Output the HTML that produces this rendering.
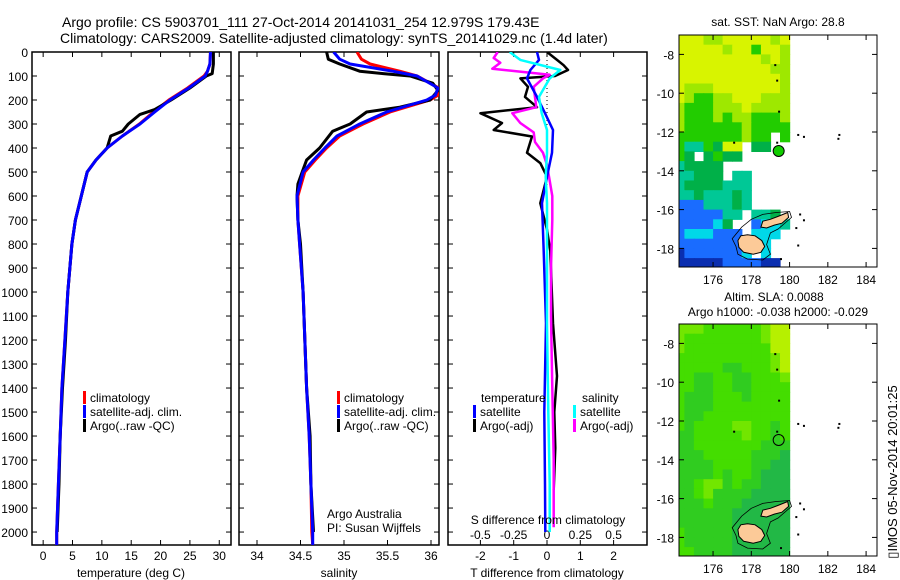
<!DOCTYPE html>
<html><head><meta charset="utf-8"><style>
html,body{margin:0;padding:0;background:#fff;}
svg{display:block;font-family:"Liberation Sans",sans-serif;}
text{fill:#000;}
</style></head><body>
<svg id="fig" width="900" height="580" viewBox="0 0 900 580" xmlns="http://www.w3.org/2000/svg">
<defs>
<clipPath id="m1clip"><rect x="679" y="35" width="198" height="232"/></clipPath>
<clipPath id="m2clip"><rect x="679" y="324" width="198" height="232"/></clipPath>
<clipPath id="p1clip"><rect x="32" y="52" width="199" height="493"/></clipPath>
<clipPath id="p2clip"><rect x="239" y="52" width="200" height="493"/></clipPath>
<clipPath id="p3clip"><rect x="448" y="52" width="199" height="493"/></clipPath>
</defs>
<text x="62" y="27" font-size="14">Argo profile: CS 5903701_111 27-Oct-2014 20141031_254 12.979S 179.43E</text>
<text x="60" y="43" font-size="14">Climatology: CARS2009. Satellite-adjusted climatology: synTS_20141029.nc (1.4d later)</text>
<g id="layer"></g>
</svg>
<script>
// ---------- data ----------
const tDepth = [0,50,80,100,150,200,250,300,350,400,450,500,600,700,800,1000,1200,1400,1600,1800,2000,2054];
const tClim  = [28.5,28.4,28.0,27.4,24.6,21.4,18.8,16.4,13.5,10.9,9.0,7.5,6.5,5.5,4.9,4.2,3.7,3.2,2.9,2.6,2.3,2.3];
const tSat   = [28.5,28.4,28.0,27.6,24.8,21.6,19.0,16.5,13.5,10.9,9.0,7.5,6.5,5.5,4.9,4.2,3.7,3.2,2.9,2.6,2.3,2.3];
const aDepth = [0,50,90,100,150,200,240,260,300,330,350,400,450,500,600,700,800,1000,1200,1400,1600,1800,2000];
const tArgo  = [29.0,29.0,28.8,27.8,25.0,21.8,19.0,16.5,14.5,13.5,11.5,10.9,9.0,7.5,6.5,5.5,4.9,4.2,3.8,3.3,2.9,2.7,2.4];

const sDepth = [0,30,50,80,100,150,180,200,250,300,350,400,450,500,600,700,800,1000,1400,1600,1800,2000,2054];
const sClim  = [35.15,35.2,35.3,35.64,35.84,36.09,36.08,35.99,35.53,35.22,34.95,34.80,34.67,34.55,34.47,34.47,34.49,34.53,34.57,34.6,34.62,34.63,34.64];
const sSat   = [34.88,34.95,35.07,35.56,35.84,36.08,36.05,35.95,35.49,35.18,34.92,34.78,34.65,34.53,34.46,34.47,34.49,34.53,34.57,34.6,34.62,34.64,34.64];
const saDepth= [0,30,50,80,90,100,130,160,200,230,250,300,330,400,450,500,550,600,700,800,1000,1400,1600,1800,2000];
const sArgo  = [34.80,34.82,34.95,35.18,35.45,35.76,36.02,36.08,35.99,35.64,35.26,35.07,34.87,34.72,34.57,34.52,34.47,34.46,34.47,34.5,34.53,34.57,34.61,34.62,34.65];

const dDepth  = [0,33,55,75,100,110,145,187,230,255,296,325,352,420,463,520,630,740,830,1130,1350,1500,1650,1825];
const dTArgo  = [0.0,0.3,0.5,0.63,0.24,-0.8,-0.57,-0.66,-0.3,-2.0,-1.35,-1.6,-0.45,-0.6,-0.2,0.0,-0.2,0.0,0.1,0.18,0.3,0.22,0.25,0.2];
const dsDepth = [0,33,75,110,187,255,325,420,520,630,830,1130,1500,1800,2000];
const dTSat   = [-0.3,-0.24,-0.5,-0.6,-0.3,-0.06,0.18,0.15,0.0,-0.15,-0.1,-0.03,-0.08,-0.06,-0.05];
const dSSat   = [-0.28,-0.2,0.1,0.02,-0.06,-0.04,0.0,0.0,-0.01,0.0,0.0,0.0,0.01,0.02,0.02];
const dmDepth = [0,25,45,70,80,95,110,145,230,255,296,335,375,420,470,600,700,900,1100,1400,1700,1980];
const dSArgo  = [-0.37,-0.4,-0.35,-0.41,-0.23,0.02,-0.03,-0.1,-0.08,-0.26,-0.2,-0.1,-0.09,-0.03,0.0,0.04,0.04,0.03,0.03,0.04,0.05,0.05];

const depthTicks = [0,100,200,300,400,500,600,700,800,900,1000,1100,1200,1300,1400,1500,1600,1700,1800,1900,2000];
const tempTicks = [0,5,10,15,20,25,30];
const salTicks = [34,34.5,35,35.5,36];
const salTickLabels = ['34','34.5','35','35.5','36'];
const dTTicks = [-2,-1,0,1,2];
const dSTicks = [-0.5,-0.25,0,0.25,0.5];
const dSTickLabels = ['-0.5','-0.25','0','0.25','0.5'];
const lonTicks = [176,178,180,182,184];
const latTicks = [-8,-10,-12,-14,-16,-18];

// SST grid: 24 rows (lat -7 .. -19, 0.5deg), 12 cols (lon 174 .. 180)
const sstRows = [
"yyyllyyyyyly","yyyyylyygyyl","yyyyyyyyylyl","yyyyyyyyyyll","yyyyyyyyyyyl","ylllyyyyyyyl",
"ylggllyyylll","lggglllyllll","lggglgllgggl","lgggggglgggg","ggggggglgg.g","gttgdyy.dd..",
"gd.dgdd.....","tdddd.......","ttddd.tt....","tddddttt....","ttdtttdt....","bbbtttdt....",
"bbbbbtt.ttd.","bbbbcd..bcct","bcccbbb.ccc.","bbbbbbbccc..","nbbbbbbc.c..","nnnnnbbbbnn."];
const sstColors = {y:"#d8f400",l:"#9ee800",g:"#22cc00",d:"#00b048",t:"#00c896",c:"#00d8e8",b:"#1a6cff",n:"#0a2eb0"};
const slaRows = [
"LLLGGGGGGLYY","LGGGGGGGGLYY","LGGGGGGGGGYY","GGGGGGGGGGLY","GGGGGMMGGGLY","GGMMGGMMGGGL",
"GGMMGGMMGGGG","GMMMGGGMGGGG","GMMMGGGGGGGG","GMMGGGGGGGGG","GMGGGGLLGGMG","MMGGGGGLGGMG",
"MMGGGGGGGMMM","MMMGGGGGMMMD","MMMMGGGGMMDD","MMMMGMGGMDDD","MMGLLMGMMDDD","MMGLMMMMDDDD",
"MMMGMMMDDDDD","MMMMMMDDDDDD","MMMMMMDDDDDD","GMMMMMDDDDDD","GMMMMMDDDDDD","GGMMMMDDDDDD"];
const slaColors = {Y:"#b6f000",L:"#72e600",G:"#44dd00",M:"#30cc20",D:"#22b846"};
const argoLon = 179.43, argoLat = -12.979;

// land polygons (lon,lat)
const vitiLevu = [[177.3,-17.6],[177.45,-17.35],[177.8,-17.3],[178.2,-17.35],[178.55,-17.6],[178.7,-17.9],[178.5,-18.2],[178.1,-18.3],[177.6,-18.2],[177.35,-17.95]];
const vanuaLevu = [[178.5,-16.9],[178.6,-16.6],[179.0,-16.5],[179.4,-16.35],[179.9,-16.15],[179.95,-16.4],[179.6,-16.7],[179.2,-16.8],[178.8,-16.95]];
const reef = [[177.2,-17.9],[177.0,-17.5],[177.5,-16.9],[178.0,-16.5],[178.6,-16.25],[179.3,-16.15],[180.0,-16.1],[180.1,-16.4],[179.4,-17.0],[179.0,-17.2],[178.8,-17.8],[179.0,-18.3],[178.6,-18.6],[177.8,-18.55],[177.3,-18.3]];
const islets = [[180.4,-12.1],[180.7,-12.2],[182.5,-12.3],[182.55,-12.1],[179.2,-8.5],[179.3,-9.3],[179.4,-10.9],[177.05,-12.5],[179.3,-12.5],[180.5,-16.2],[180.7,-16.5],[180.3,-16.9],[180.4,-17.8],[179.5,-18.5],[178.2,-19.0]];

// ---------- helpers ----------
const NS="http://www.w3.org/2000/svg";
const layer=document.getElementById('layer');
function mk(tag,attrs,parent){const e=document.createElementNS(NS,tag);for(const k in attrs)e.setAttribute(k,attrs[k]);(parent||layer).appendChild(e);return e;}
function txt(x,y,s,size,anchor,parent){const t=mk('text',{x:x,y:y,'font-size':size||12,'text-anchor':anchor||'start'},parent);t.textContent=s;return t;}

const TOP=52,BOT=545,DMAX=2054;
const yD=d=>TOP+d*(BOT-TOP)/DMAX;
const x1=t=>32+(t+1.9)*(199/33.9);
const x2=s=>257+(s-34)*87;
const x3T=t=>547+t*33.3;
const x3S=s=>547+s*133.3;
const mLon=l=>679+(l-174.22)*19.13;
const mLat1=l=>35+(-7.0-l)*19.4;
const mLat2=l=>324+(-7.0-l)*19.4;

function panelFrame(x0,x1_,name){
  const r=mk('rect',{x:x0,y:TOP,width:x1_-x0,height:BOT-TOP,fill:'none',stroke:'#000','stroke-width':1.5});
  
  
  depthTicks.forEach(d=>{mk('line',{x1:x0,x2:x0+5,y1:yD(d),y2:yD(d),stroke:'#000'});mk('line',{x1:x1_-5,x2:x1_,y1:yD(d),y2:yD(d),stroke:'#000'});});
}
function xticks(pos,labels,g,ylab){
  pos.forEach((p,i)=>{mk('line',{x1:p,x2:p,y1:BOT,y2:BOT-5,stroke:'#000'});mk('line',{x1:p,x2:p,y1:TOP,y2:TOP+5,stroke:'#000'});
    if(labels){const t=txt(p,ylab,labels[i],12,'middle');}});
}
function line(xs,ys,xf,color,w,clip,name){
  const pts=xs.map((v,i)=>xf(v).toFixed(1)+','+yD(ys[i]).toFixed(1)).join(' ');
  const p=mk('polyline',{points:pts,fill:'none',stroke:color,'stroke-width':w,'stroke-linejoin':'round','clip-path':'url(#'+clip+')'});
  
  
}
function legendEntry(x,y,color,label,name){
  const g=mk('g',{});
  
  
  mk('rect',{x:x,y:y-11,width:3,height:13,fill:color},g);
  txt(x+7,y,label,12,'start',g);
}

// depth labels
depthTicks.forEach(d=>{const t=txt(28,yD(d)+5,String(d),12,'end');});

// ---- panel 1 temperature
panelFrame(32,231,'temperature-panel');
xticks(tempTicks.map(x1),tempTicks.map(String),null,560);
line(tClim,tDepth,x1,'#ff0000',3,'p1clip','temp-climatology-line');
line(tArgo,aDepth,x1,'#000',3,'p1clip','temp-argo-line');
line(tSat,tDepth,x1,'#0000ff',3,'p1clip','temp-satellite-line');
{const t=txt(131,577,'temperature (deg C)',12,'middle');}
legendEntry(83,402,'#ff0000','climatology','legend-climatology');
legendEntry(83,416,'#0000ff','satellite-adj. clim.','legend-satellite-adj');
legendEntry(83,430,'#000','Argo(..raw -QC)','legend-argo');

// ---- panel 2 salinity
panelFrame(239,439,'salinity-panel');
xticks(salTicks.map(x2),salTickLabels,null,560);
line(sClim,sDepth,x2,'#ff0000',3,'p2clip','sal-climatology-line');
line(sArgo,saDepth,x2,'#000',3,'p2clip','sal-argo-line');
line(sSat,sDepth,x2,'#0000ff',3,'p2clip','sal-satellite-line');
{const t=txt(339,577,'salinity',12,'middle');}
legendEntry(337,402,'#ff0000','climatology','legend-climatology-2');
legendEntry(337,416,'#0000ff','satellite-adj. clim.','legend-satellite-adj-2');
legendEntry(337,430,'#000','Argo(..raw -QC)','legend-argo-2');
{const t=txt(327,518,'Argo Australia',12);}
{const t=txt(327,532,'PI: Susan Wijffels',12);}

// ---- panel 3 differences
panelFrame(448,647,'difference-panel');
xticks(dTTicks.map(x3T),dTTicks.map(String),null,560);
dSTicks.forEach((s,i)=>{const t=txt(x3S(s),539,dSTickLabels[i],12,'middle');});
{const l=mk('line',{x1:x3T(0),x2:x3T(0),y1:TOP,y2:yD(600),stroke:'#000','stroke-dasharray':'1,3'});}
line(dTArgo,dDepth,x3T,'#000',2.5,'p3clip','dT-argo-line');
line(dSArgo,dmDepth,x3S,'#ff00ff',2.5,'p3clip','dS-argo-line');
line(dTSat,dsDepth,x3T,'#0000ff',2.5,'p3clip','dT-satellite-line');
line(dSSat,dsDepth,x3S,'#00ffff',2.5,'p3clip','dS-satellite-line');
{const t=txt(548,524,'S difference from climatology',12,'middle');}
{const t=txt(547,577,'T difference from climatology',12,'middle');}
{const t=txt(481,402,'temperature',12);}
{const t=txt(582,402,'salinity',12);}
legendEntry(473,416,'#0000ff','satellite','legend-t-satellite');
legendEntry(473,430,'#000','Argo(-adj)','legend-t-argo');
legendEntry(573,416,'#00ffff','satellite','legend-s-satellite');
legendEntry(573,430,'#ff00ff','Argo(-adj)','legend-s-argo');

// ---- maps
function drawMap(rows,colors,latF,clip,y0,name,filledMarker){
  const g=mk('g',{'clip-path':'url(#'+clip+')'});
  
  
  rows.forEach((row,j)=>{for(let i=0;i<row.length;i++){const c=row[i];if(c==='.')continue;
    const lon=174+0.5*i, lat=-7-0.5*j;
    const r=mk('rect',{x:mLon(lon).toFixed(1),y:latF(lat).toFixed(1),width:(0.5*19.13+0.6).toFixed(1),height:(0.5*19.4+0.6).toFixed(1),fill:colors[c]},g);
    
    }});
  const pth=pts=>pts.map(p=>mLon(p[0]).toFixed(1)+','+latF(p[1]).toFixed(1)).join(' ');
  mk('polygon',{points:pth(reef),fill:'none',stroke:'#000','stroke-width':0.8},g);
  mk('polygon',{points:pth(vitiLevu),fill:'#fcca98',stroke:'#000','stroke-width':1},g);
  mk('polygon',{points:pth(vanuaLevu),fill:'#fcca98',stroke:'#000','stroke-width':1},g);
  islets.forEach(p=>mk('rect',{x:mLon(p[0]),y:latF(p[1]),width:2,height:2,fill:'#000'},g));
  const mkr=mk('circle',{cx:mLon(argoLon),cy:latF(argoLat),r:5.5,fill:filledMarker?'#11cc00':'none',stroke:'#000','stroke-width':1});
  
  
  const fr=mk('rect',{x:679,y:y0,width:198,height:232,fill:'none',stroke:'#000','stroke-width':1});
  
  
  lonTicks.forEach(l=>{const x=mLon(l);mk('line',{x1:x,x2:x,y1:y0,y2:y0+5,stroke:'#000'});mk('line',{x1:x,x2:x,y1:y0+232,y2:y0+227,stroke:'#000'});
    const t=txt(x,y0+249,String(l),12,'middle');});
  latTicks.forEach(l=>{const y=latF(l);mk('line',{x1:679,x2:684,y1:y,y2:y,stroke:'#000'});mk('line',{x1:872,x2:877,y1:y,y2:y,stroke:'#000'});
    const t=txt(674,y+5,String(l),12,'end');});
}
drawMap(sstRows,sstColors,mLat1,'m1clip',35,'sst-map',true);
drawMap(slaRows,slaColors,mLat2,'m2clip',324,'sla-map',false);
{const t=txt(778,26,'sat. SST: NaN Argo: 28.8',12,'middle');}
{const t=txt(774,301,'Altim. SLA: 0.0088',12,'middle');}
{const t=txt(778,316,'Argo h1000: -0.038 h2000: -0.029',12,'middle');}
{const t=txt(0,0,'▯IMOS 05-Nov-2014 20:01:25',13,'middle');t.setAttribute('transform','translate(897,472) rotate(-90)');}
</script>
</body></html>
